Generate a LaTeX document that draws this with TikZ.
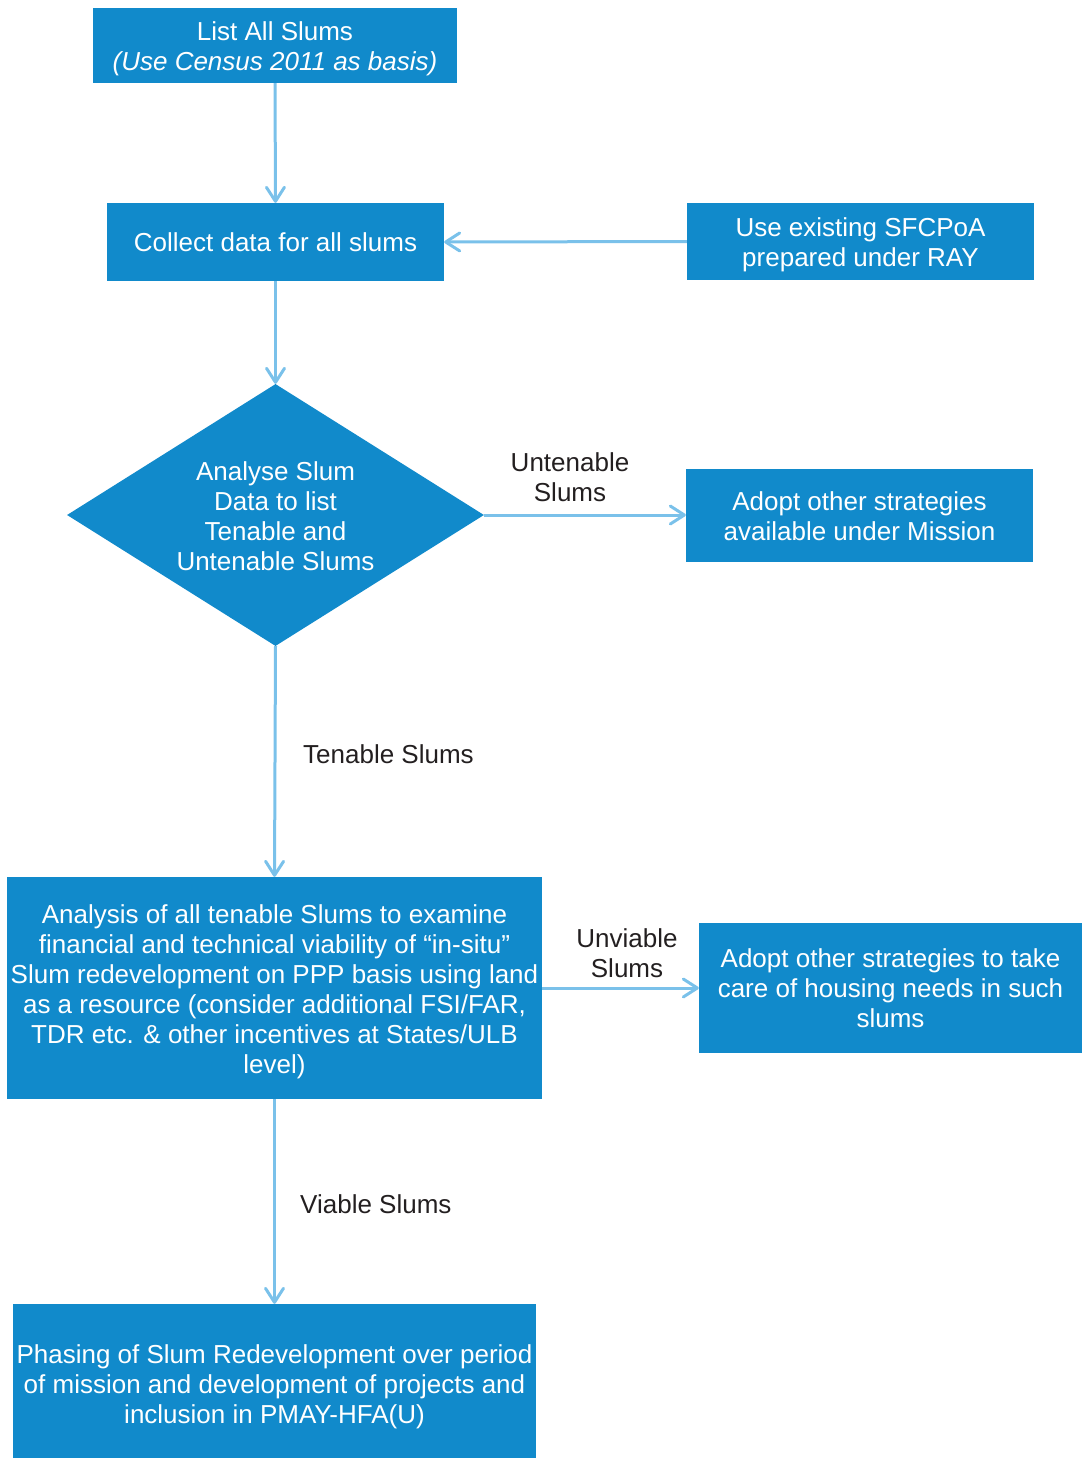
\documentclass[tikz,border=0pt]{standalone}
\usepackage{fontspec}
\setmainfont{Liberation Sans}
\usetikzlibrary{arrows.meta,shapes.geometric}
\definecolor{boxblue}{RGB}{17,138,203}
\definecolor{arrowblue}{RGB}{122,193,234}
\definecolor{labeltext}{RGB}{35,31,32}
\begin{document}
\begin{tikzpicture}[x=1pt,y=-1pt,
  box/.style={fill=boxblue,draw=none,inner sep=0pt},
  txt/.style={text=white,align=center,inner sep=0pt,font=\fontsize{26}{30}\selectfont},
  arr/.style={draw=arrowblue,line width=3pt,-{Straight Barb[length=14pt,width=18pt,round]}},
  lbl/.style={text=labeltext,align=center,inner sep=0pt,font=\fontsize{26}{30}\selectfont}]
\useasboundingbox (0,0) rectangle (1083,1459);
% boxes
\node[box,minimum width=364pt,minimum height=75pt] (n1) at (275,45.5) {};
\node[box,minimum width=337pt,minimum height=78pt] (n2) at (275.5,242) {};
\node[box,minimum width=347pt,minimum height=77pt] (n3) at (860.5,241.5) {};
\node[box,txt,shape=diamond,aspect=1.59,minimum width=417pt,minimum height=262pt] (d) at (275.5,515) {};
\node[box,minimum width=347pt,minimum height=93pt] (n5) at (859.5,515) {};
\node[box,minimum width=535pt,minimum height=222pt] (n6) at (274.5,988) {};
\node[box,minimum width=383pt,minimum height=130pt] (n7) at (890.5,988) {};
\node[box,minimum width=523pt,minimum height=154pt] (n8) at (274.5,1381) {};
% texts
\node[txt] (t1) at ([yshift=-3pt]n1.center)
  {List All Slums\\\textit{(Use Census 2011 as basis)}};
\node[txt] (t2) at (n2.center) {Collect data for all slums};
\node[txt] (t3) at ([yshift=-3pt]n3.center) {Use existing SFCPoA\\prepared under RAY};
\node[txt] (td) at ([yshift=-1pt]d.center)
  {Analyse Slum\\Data to list\\Tenable and\\Untenable Slums};
\node[txt] (t5) at ([yshift=-1pt]n5.center) {Adopt other strategies\\available under Mission};
\node[txt] (t6) at ([yshift=-4pt]n6.center)
  {Analysis of all tenable Slums to examine\\financial and technical viability of “in-situ”\\Slum redevelopment on PPP basis using land\\as a resource (consider additional FSI/FAR,\\TDR etc. \& other incentives at States/ULB\\level)};
\node[txt] (t7) at (n7.center)
  {Adopt other strategies to take\\care of housing needs in such\\slums};
\node[txt] (t8) at ([yshift=-6pt]n8.center)
  {Phasing of Slum Redevelopment over period\\of mission and development of projects and\\inclusion in PMAY-HFA(U)};
% connectors
\draw[arr] (n1.south) -- (n2.north);
\draw[arr] (n3.west) -- (n2.east);
\draw[arr] (n2.south) -- (d.north);
\draw[arr] (d.east) -- (n5.west);
\draw[arr] (d.south) -- (n6.north);
\draw[arr] (n6.east) -- (n7.west);
\draw[arr] (n6.south) -- (n8.north);
% labels
\node[lbl] (l1) at (570,477) {Untenable\\Slums};
\node[lbl,anchor=west] (l2) at (303,754) {Tenable Slums};
\node[lbl] (l3) at (627,953) {Unviable\\Slums};
\node[lbl,anchor=west] (l4) at (300,1204) {Viable Slums};
\end{tikzpicture}
\end{document}
